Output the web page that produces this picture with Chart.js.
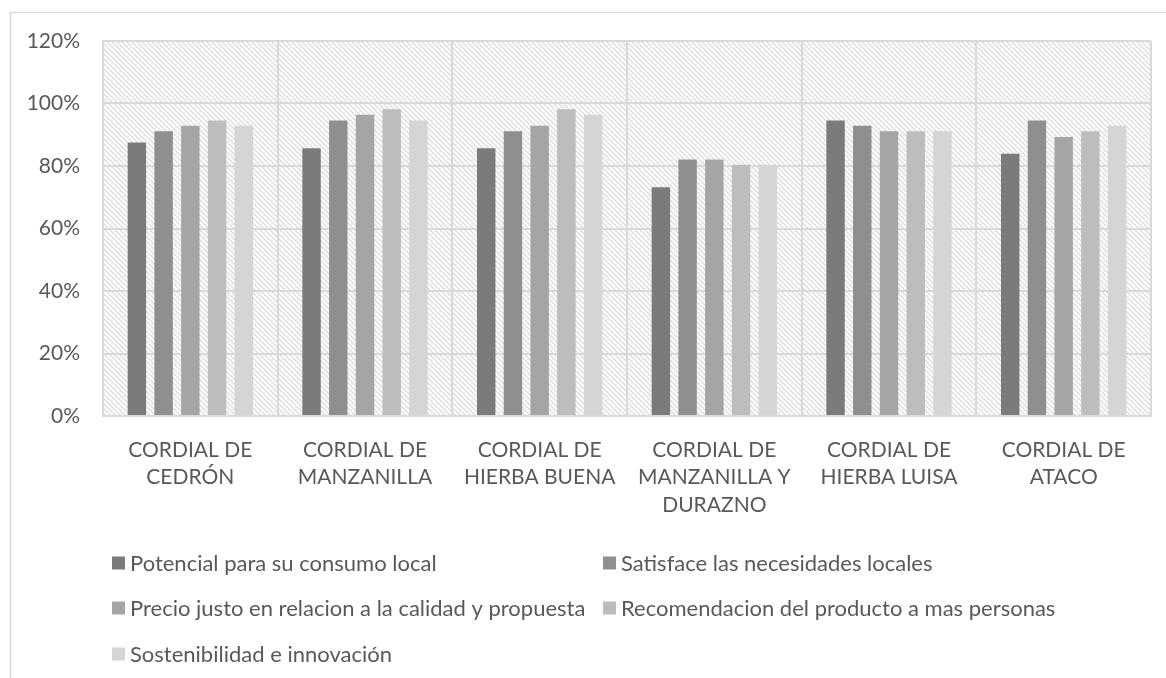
<!DOCTYPE html>
<html>
<head>
<meta charset="utf-8">
<script src="https://cdn.jsdelivr.net/npm/chart.js@4"></script>
<style>
  body { margin: 0; background: #fff; }
  canvas { display: block; }
</style>
</head>
<body>
<canvas id="chart" width="1166" height="678"></canvas>
<script>
// Cordial evaluation chart (percent of respondents)

const categories = [
  ['CORDIAL DE', 'CEDRÓN'],
  ['CORDIAL DE', 'MANZANILLA'],
  ['CORDIAL DE', 'HIERBA BUENA'],
  ['CORDIAL DE', 'MANZANILLA Y', 'DURAZNO'],
  ['CORDIAL DE', 'HIERBA LUISA'],
  ['CORDIAL DE', 'ATACO'],
];

const seriesLabels = [
  'Potencial para su consumo local',
  'Satisface las necesidades locales',
  'Precio justo en relacion a la calidad y propuesta',
  'Recomendacion del producto a mas personas',
  'Sostenibilidad e innovación',
];

const potencial    = [87.5, 85.7, 85.7, 73.2, 94.6, 83.9];
const satisface    = [91.1, 94.6, 91.1, 82.1, 92.9, 94.6];
const precioJusto  = [92.9, 96.4, 92.9, 82.1, 91.1, 89.3];
const recomendacion = [94.6, 98.2, 98.2, 80.4, 91.1, 91.1];
const sostenibilidad = [92.9, 94.6, 96.4, 80.4, 91.1, 92.9];

const yTicks = [0, 20, 40, 60, 80, 100, 120];

const barColors = ['#7b7b7b', '#8f8f8f', '#a5a5a5', '#bdbdbd', '#d5d5d5'];
const gridColor = '#d9d9d9';
const textColor = '#595959';
const FONT = 'Lato, "Liberation Sans", sans-serif';
const AXIS_SIZE = 21;
const LEGEND_SIZE = 22;

function makeHatch() {
  const n = 5;
  const c = document.createElement('canvas');
  c.width = n; c.height = n;
  const g = c.getContext('2d');
  g.fillStyle = '#fff';
  g.fillRect(0, 0, n, n);
  g.strokeStyle = '#dcdcdc';
  g.lineWidth = 1.3;
  for (const k of [-n, 0, n]) {
    g.beginPath();
    g.moveTo(k - 1, -1);
    g.lineTo(k + n + 1, n + 1);
    g.stroke();
  }
  return g.createPattern(c, 'repeat');
}

const backgroundPlugin = {
  id: 'bg',
  beforeDraw(chart) {
    const { ctx, chartArea: a } = chart;
    ctx.save();
    ctx.strokeStyle = gridColor;
    ctx.lineWidth = 1.5;
    ctx.strokeRect(10.5, 12.5, 3000, 3000);
    ctx.fillStyle = makeHatch();
    ctx.fillRect(a.left, a.top, a.right - a.left, a.bottom - a.top);
    ctx.restore();
  },
};

// two-column legend like the Excel original
const legendPlugin = {
  id: 'gridLegend',
  afterDraw(chart) {
    const { ctx } = chart;
    const cols = [112, 603];
    const rows = [563, 608, 654];
    ctx.save();
    ctx.font = LEGEND_SIZE + 'px ' + FONT;
    ctx.textBaseline = 'middle';
    chart.data.datasets.forEach((ds, i) => {
      const x = cols[i % 2];
      const y = rows[Math.floor(i / 2)];
      ctx.fillStyle = ds.backgroundColor;
      ctx.fillRect(x, y - 6.5, 13, 13);
      ctx.fillStyle = textColor;
      ctx.fillText(ds.label, x + 18, y + 1);
    });
    ctx.restore();
  },
};

const seriesData = [potencial, satisface, precioJusto, recomendacion, sostenibilidad];

new Chart(document.getElementById('chart'), {
  type: 'bar',
  data: {
    labels: categories,
    datasets: seriesData.map((d, i) => ({
      label: seriesLabels[i],
      data: d,
      backgroundColor: barColors[i],
      borderWidth: 0,
      categoryPercentage: 0.765,
      barPercentage: 0.69,
    })),
  },
  options: {
    responsive: false,
    animation: false,
    layout: { padding: { top: 41, right: 15, left: 0, bottom: 0 } },
    plugins: {
      legend: { display: false },
      tooltip: { enabled: false },
    },
    scales: {
      x: {
        offset: true,
        grid: { offset: true, color: gridColor, lineWidth: 2, drawTicks: false },
        border: { color: gridColor, width: 2 },
        ticks: {
          color: textColor,
          font: { family: FONT, size: AXIS_SIZE, lineHeight: 1.31 },
          padding: 20,
          maxRotation: 0,
          autoSkip: false,
        },
        afterFit(scale) { scale.height = 262; },
      },
      y: {
        min: 0,
        max: 120,
        afterBuildTicks(scale) { scale.ticks = yTicks.map(v => ({ value: v })); },
        grid: { color: gridColor, lineWidth: 2, drawTicks: false },
        border: { color: gridColor, width: 2 },
        ticks: {
          color: textColor,
          font: { family: FONT, size: AXIS_SIZE },
          padding: 23,
          callback: v => v + '%',
        },
        afterFit(scale) { scale.width = 103; },
      },
    },
  },
  plugins: [backgroundPlugin, legendPlugin],
});
</script>
</body>
</html>
